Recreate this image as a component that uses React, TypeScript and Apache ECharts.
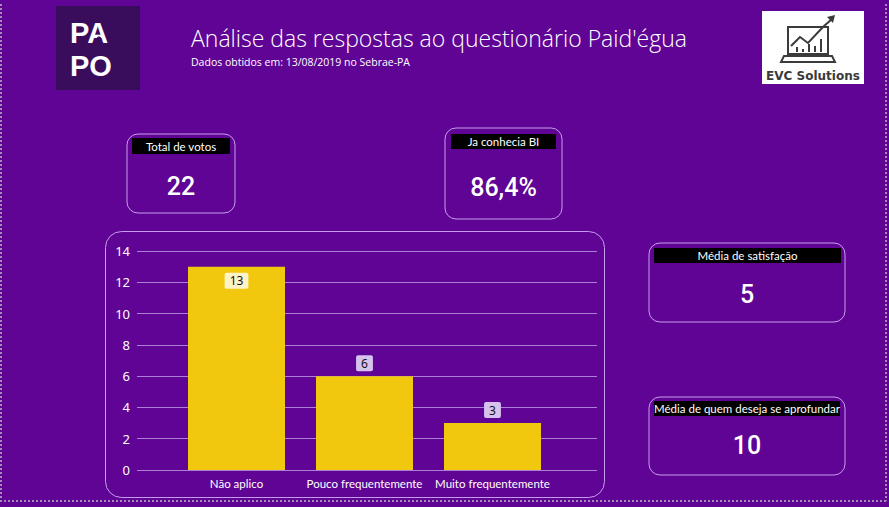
import React, { useEffect, useRef } from "react";
import * as echarts from "echarts";

const categories = ["Não aplico", "Pouco frequentemente", "Muito frequentemente"];
const votes = [13, 6, 3];
const yMin = 0;
const yMax = 14;
const yInterval = 2;

const titleText = "Análise das respostas ao questionário Paid'égua";
const subtitleText = "Dados obtidos em: 13/08/2019 no Sebrae-PA";
const logoText = "PA\nPO";

const cardTitles = ["Total de votos", "Ja conhecia BI", "Média de satisfação", "Média de quem deseja se aprofundar"];
const cardValues = ["22", "86,4%", "5", "10"];

const BG = "#5f0494";
const BORDER = "#c79ded";
const GRIDLINE = "#ad7fd8";

// card boxes: [x, y, w, h, headerX, headerY, headerW, headerH, valueY]
const cardBoxes = [
  [127, 134, 108, 79, 132, 138, 98, 16, 186],
  [445, 128, 117, 91, 451, 134, 105, 15, 187],
  [649, 243, 196, 79, 654, 248, 187, 15, 294],
  [649, 397, 196, 78, 654, 401, 186, 15, 445],
];

export default function App() {
  const ref = useRef<HTMLDivElement>(null);
  useEffect(() => {
    const chart = echarts.init(ref.current!, null, { renderer: "svg" });
    const graphics: any[] = [];
    // dotted page border
    const dot = { stroke: "#a48db4", lineWidth: 2, lineDash: [2, 2] };
    graphics.push({ type: "line", shape: { x1: 1, y1: 4, x2: 1, y2: 501 }, style: dot, silent: true });
    graphics.push({ type: "line", shape: { x1: 0, y1: 501, x2: 887, y2: 501 }, style: dot, silent: true });
    graphics.push({ type: "line", shape: { x1: 886, y1: 4, x2: 886, y2: 501 }, style: dot, silent: true });

    // PAPO logo
    graphics.push({ type: "rect", shape: { x: 56, y: 6, width: 84, height: 84 }, style: { fill: "#3a0c5c" } });
    graphics.push({
      type: "text", x: 70, y: 49,
      style: { text: logoText, fill: "#ffffff", font: "bold 29px 'Liberation Sans', sans-serif", lineHeight: 33, textAlign: "left", textVerticalAlign: "middle" },
    });
    graphics.push({ type: "circle", shape: { cx: 99, cy: 39, r: 2.5 }, style: { fill: "#3a0c5c" } });
    graphics.push({ type: "polygon", shape: { points: [[102, 47], [96, 47], [99, 42]] }, style: { fill: "#3a0c5c" } });

    // Title
    graphics.push({
      type: "text", x: 191, y: 49,
      style: { text: titleText, fill: "#ffffff", font: "300 23px 'Open Sans', sans-serif", textAlign: "left", textVerticalAlign: "bottom" },
    });
    graphics.push({
      type: "text", x: 191, y: 67,
      style: { text: subtitleText, fill: "#ffffff", font: "10.5px 'Open Sans', sans-serif", textAlign: "left", textVerticalAlign: "bottom" },
    });

    // EVC Solutions logo
    const ic = { stroke: "#3b3b3b", lineWidth: 2, fill: "none" };
    graphics.push({ type: "rect", shape: { x: 762, y: 11, width: 102, height: 73 }, style: { fill: "#ffffff" } });
    graphics.push({ type: "rect", shape: { x: 788, y: 27, width: 40, height: 27 }, style: ic });
    graphics.push({ type: "polygon", shape: { points: [[784, 56], [832, 56], [835, 62], [781, 62]] }, style: ic });
    graphics.push({ type: "polyline", shape: { points: [[791, 46], [800, 37], [808, 43], [823, 27], [833, 18]] }, style: ic });
    graphics.push({ type: "polygon", shape: { points: [[835, 15], [827, 17], [833, 23]] }, style: { fill: "#3b3b3b" } });
    [[797, 47], [803, 49], [809, 44], [815, 46], [821, 39]].forEach(([x, y]) => {
      graphics.push({ type: "line", shape: { x1: x, y1: y, x2: x, y2: 52 }, style: { stroke: "#3b3b3b", lineWidth: 2 } });
    });
    graphics.push({
      type: "text", x: 813, y: 76,
      style: { text: "EVC Solutions", fill: "#3a3a3a", font: "bold 12px 'DejaVu Sans', sans-serif", textAlign: "center", textVerticalAlign: "middle" },
    });

    // Cards
    cardBoxes.forEach((b, i) => {
      const [x, y, w, h, hx, hy, hw, hh, vy] = b;
      graphics.push({ type: "rect", shape: { x, y, width: w, height: h, r: 11 }, style: { fill: "none", stroke: BORDER, lineWidth: 1 } });
      graphics.push({ type: "rect", shape: { x: hx, y: hy, width: hw, height: hh }, style: { fill: "#000000" } });
      graphics.push({
        type: "text", x: hx + hw / 2, y: hy + hh / 2,
        style: { text: cardTitles[i], fill: "#ffffff", font: "11.5px 'Lato', sans-serif", textAlign: "center", textVerticalAlign: "middle" },
      });
      graphics.push({
        type: "text", x: x + w / 2, y: vy,
        style: { text: cardValues[i], fill: "#ffffff", font: "500 25px 'Roboto', sans-serif", textAlign: "center", textVerticalAlign: "middle" },
      });
    });

    // chart container
    graphics.push({ type: "rect", shape: { x: 105.5, y: 231.5, width: 499, height: 266, r: 16 }, style: { fill: "none", stroke: BORDER, lineWidth: 1 } });

    const barData = votes.map((v, i) => ({
      value: v,
      label: i === 0
        ? { show: true, position: "insideTop", distance: 6, backgroundColor: "#fdf3c9", color: "#111", padding: [2, 5], borderRadius: 2 }
        : { show: true, position: "top", distance: 5, backgroundColor: "#d6c2ee", color: "#111", padding: [2, 5], borderRadius: 2 },
    }));

    chart.setOption({
      animation: false,
      backgroundColor: BG,
      graphic: graphics,
      grid: [
        { left: 137, top: 251, width: 460, height: 219 },
        { left: 172.5, top: 251, width: 384, height: 219 },
      ],
      xAxis: [
        { gridIndex: 0, type: "category", data: categories, show: false },
        {
          gridIndex: 1, type: "category", data: categories,
          axisLine: { show: false }, axisTick: { show: false },
          axisLabel: { color: "#ffffff", fontSize: 11.5, margin: 7, fontFamily: "'Lato', sans-serif", interval: 0 },
        },
      ],
      yAxis: [
        {
          gridIndex: 0, type: "value", min: yMin, max: yMax, interval: yInterval,
          axisLine: { show: false }, axisTick: { show: false },
          axisLabel: { color: "#ffffff", fontSize: 13, margin: 7, fontFamily: "'Noto Sans', sans-serif" },
          splitLine: { lineStyle: { color: GRIDLINE, width: 1 } },
        },
        { gridIndex: 1, type: "value", min: yMin, max: yMax, interval: yInterval, show: false, splitLine: { show: false } },
      ],
      series: [
        {
          type: "bar", xAxisIndex: 1, yAxisIndex: 1, data: barData, barWidth: 97,
          itemStyle: { color: "#f2c80f" },
          label: { fontSize: 12, fontFamily: "'Noto Sans', sans-serif" },
        },
      ],
    });
    return () => chart.dispose();
  }, []);
  return <div ref={ref} style={{ position: "fixed", left: 0, top: 0, width: 889, height: 507 }} />;
}
